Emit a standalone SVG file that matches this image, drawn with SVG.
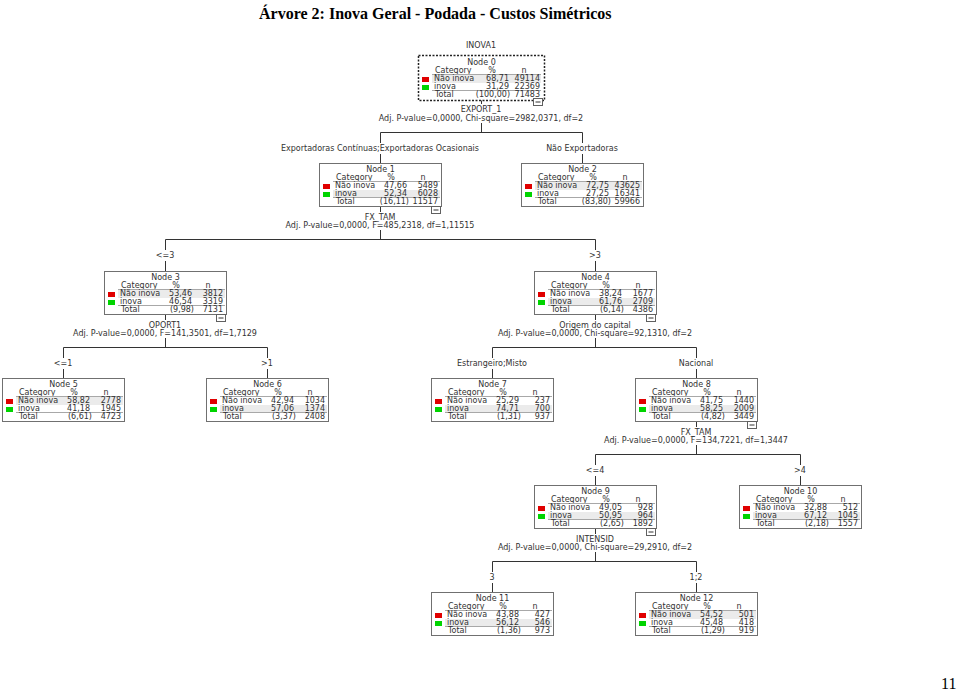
<svg xmlns="http://www.w3.org/2000/svg" width="960" height="691" viewBox="0 0 960 691">
<style>
.t{font-family:"DejaVu Sans",Verdana,sans-serif;font-size:8px;fill:#333}
.m{text-anchor:middle}
.e{text-anchor:end}
.box{fill:#fff;stroke:#707070;stroke-width:1}
.sel{fill:#fff;stroke:#222;stroke-width:1.5;stroke-dasharray:2 1.5}
.sep{stroke:#a8a8a8;stroke-width:1}
.hl{fill:#ebebeb}
.r{fill:#e00000}
.g{fill:#00d400}
.mb{fill:#fff;stroke:#606060;stroke-width:1}
.c{stroke:#333;stroke-width:1;fill:none}
.title{font-family:"Liberation Serif","Times New Roman",serif;font-size:16px;font-weight:bold;fill:#000}
.pg{font-family:"Liberation Serif","Times New Roman",serif;font-size:16px;fill:#000}
</style>
<rect width="960" height="691" fill="#fff"/>
<text class="title" x="259" y="19">Árvore 2: Inova Geral - Podada - Custos Simétricos</text>
<text class="pg" x="941" y="689">11</text>

<g id="connectors">
  <text class="t m" x="481" y="48">INOVA1</text>
  <path class="c" d="M481.5 100V104 M481.5 123V132.5 M380.5 132.5H582.5 M380.5 132.5V143 M380.5 154V163 M582.5 132.5V143 M582.5 154V163"/>
  <text class="t m" x="481" y="112">EXPORT_1</text>
  <text class="t m" x="481" y="121">Adj. P-value=0,0000, Chi-square=2982,0371, df=2</text>
  <text class="t m" x="380" y="151">Exportadoras Contínuas;Exportadoras Ocasionais</text>
  <text class="t m" x="582" y="151">Não Exportadoras</text>

  <path class="c" d="M380.5 207V212 M380.5 230V239.5 M165.5 239.5H595.5 M165.5 239.5V250 M165.5 261V271 M595.5 239.5V250 M595.5 261V271"/>
  <text class="t m" x="380" y="220">FX_TAM</text>
  <text class="t m" x="380" y="228">Adj. P-value=0,0000, F=485,2318, df=1,11515</text>
  <text class="t m" x="165" y="258">&lt;=3</text>
  <text class="t m" x="595" y="258">&gt;3</text>

  <path class="c" d="M165.5 315V320 M165.5 338V347.5 M63.5 347.5H267.5 M63.5 347.5V358 M63.5 369V378 M267.5 347.5V358 M267.5 369V378"/>
  <text class="t m" x="165" y="328">OPORT1</text>
  <text class="t m" x="165" y="336">Adj. P-value=0,0000, F=141,3501, df=1,7129</text>
  <text class="t m" x="63" y="366">&lt;=1</text>
  <text class="t m" x="267" y="366">&gt;1</text>

  <path class="c" d="M595.5 315V320 M595.5 338V347.5 M492.5 347.5H696.5 M492.5 347.5V358 M492.5 369V378 M696.5 347.5V358 M696.5 369V378"/>
  <text class="t m" x="595" y="328">Origem do capital</text>
  <text class="t m" x="595" y="336">Adj. P-value=0,0000, Chi-square=92,1310, df=2</text>
  <text class="t m" x="492" y="366">Estrangeiro;Misto</text>
  <text class="t m" x="696" y="366">Nacional</text>

  <path class="c" d="M696.5 422V427 M696.5 445V454.5 M595.5 454.5H800.5 M595.5 454.5V465 M595.5 476V485 M800.5 454.5V465 M800.5 476V485"/>
  <text class="t m" x="696" y="435">FX_TAM</text>
  <text class="t m" x="696" y="443">Adj. P-value=0,0000, F=134,7221, df=1,3447</text>
  <text class="t m" x="595" y="473">&lt;=4</text>
  <text class="t m" x="800" y="473">&gt;4</text>

  <path class="c" d="M595.5 529V534 M595.5 552V561.5 M492.5 561.5H696.5 M492.5 561.5V572 M492.5 583V592 M696.5 561.5V572 M696.5 583V592"/>
  <text class="t m" x="595" y="542">INTENSID</text>
  <text class="t m" x="595" y="550">Adj. P-value=0,0000, Chi-square=29,2910, df=2</text>
  <text class="t m" x="492" y="580">3</text>
  <text class="t m" x="696" y="580">1;2</text>
</g>

<g id="node0" transform="translate(418,55)">
  <rect class="sel" x="0.5" y="0.5" width="126" height="45"/>
  <text class="t m" x="63.5" y="10">Node 0</text>
  <text class="t" x="17" y="18">Category</text><text class="t m" x="74" y="18">%</text><text class="t m" x="106" y="18">n</text>
  <line class="sep" x1="14" y1="19.5" x2="123" y2="19.5"/>
  <rect class="hl" x="14" y="20" width="109" height="8"/>
  <rect class="r" x="4" y="22" width="7" height="5"/>
  <text class="t" x="16" y="26">Não inova</text><text class="t e" x="91" y="26">68,71</text><text class="t e" x="122" y="26">49114</text>
  <rect class="g" x="4" y="30" width="7" height="5"/>
  <text class="t" x="16" y="34">inova</text><text class="t e" x="91" y="34">31,29</text><text class="t e" x="122" y="34">22369</text>
  <line class="sep" x1="14" y1="35.5" x2="123" y2="35.5"/>
  <text class="t" x="17" y="42">Total</text><text class="t e" x="92" y="42">(100,00)</text><text class="t e" x="122" y="42">71483</text>
  <rect class="mb" x="115.5" y="43.5" width="9" height="7"/><line class="c" x1="117.5" y1="47" x2="122.5" y2="47"/>
</g>

<g id="node1" transform="translate(319,163)">
  <rect class="box" x="0.5" y="0.5" width="122" height="43"/>
  <text class="t m" x="61.5" y="9">Node 1</text>
  <text class="t" x="17" y="17">Category</text><text class="t m" x="72" y="17">%</text><text class="t m" x="104" y="17">n</text>
  <line class="sep" x1="14" y1="18.5" x2="121" y2="18.5"/>
  <rect class="hl" x="14" y="27" width="107" height="7"/>
  <rect class="r" x="4" y="21" width="7" height="5"/>
  <text class="t" x="16" y="25">Não inova</text><text class="t e" x="88" y="25">47,66</text><text class="t e" x="119" y="25">5489</text>
  <rect class="g" x="4" y="29" width="7" height="5"/>
  <text class="t" x="16" y="33">inova</text><text class="t e" x="88" y="33">52,34</text><text class="t e" x="119" y="33">6028</text>
  <line class="sep" x1="14" y1="34.5" x2="121" y2="34.5"/>
  <text class="t" x="17" y="41">Total</text><text class="t e" x="90" y="41">(16,11)</text><text class="t e" x="119" y="41">11517</text>
  <rect class="mb" x="112.5" y="43.5" width="9" height="7"/><line class="c" x1="114.5" y1="47" x2="119.5" y2="47"/>
</g>

<g id="node2" transform="translate(521,163)">
  <rect class="box" x="0.5" y="0.5" width="122" height="43"/>
  <text class="t m" x="61.5" y="9">Node 2</text>
  <text class="t" x="17" y="17">Category</text><text class="t m" x="72" y="17">%</text><text class="t m" x="104" y="17">n</text>
  <line class="sep" x1="14" y1="18.5" x2="121" y2="18.5"/>
  <rect class="hl" x="14" y="19" width="107" height="8"/>
  <rect class="r" x="4" y="21" width="7" height="5"/>
  <text class="t" x="16" y="25">Não inova</text><text class="t e" x="88" y="25">72,75</text><text class="t e" x="119" y="25">43625</text>
  <rect class="g" x="4" y="29" width="7" height="5"/>
  <text class="t" x="16" y="33">inova</text><text class="t e" x="88" y="33">27,25</text><text class="t e" x="119" y="33">16341</text>
  <line class="sep" x1="14" y1="34.5" x2="121" y2="34.5"/>
  <text class="t" x="17" y="41">Total</text><text class="t e" x="90" y="41">(83,80)</text><text class="t e" x="119" y="41">59966</text>
</g>

<g id="node3" transform="translate(104,271)">
  <rect class="box" x="0.5" y="0.5" width="122" height="43"/>
  <text class="t m" x="61.5" y="9">Node 3</text>
  <text class="t" x="17" y="17">Category</text><text class="t m" x="72" y="17">%</text><text class="t m" x="104" y="17">n</text>
  <line class="sep" x1="14" y1="18.5" x2="121" y2="18.5"/>
  <rect class="hl" x="14" y="19" width="107" height="8"/>
  <rect class="r" x="4" y="21" width="7" height="5"/>
  <text class="t" x="16" y="25">Não inova</text><text class="t e" x="88" y="25">53,46</text><text class="t e" x="119" y="25">3812</text>
  <rect class="g" x="4" y="29" width="7" height="5"/>
  <text class="t" x="16" y="33">inova</text><text class="t e" x="88" y="33">46,54</text><text class="t e" x="119" y="33">3319</text>
  <line class="sep" x1="14" y1="34.5" x2="121" y2="34.5"/>
  <text class="t" x="17" y="41">Total</text><text class="t e" x="90" y="41">(9,98)</text><text class="t e" x="119" y="41">7131</text>
  <rect class="mb" x="112.5" y="43.5" width="9" height="7"/><line class="c" x1="114.5" y1="47" x2="119.5" y2="47"/>
</g>

<g id="node4" transform="translate(534,271)">
  <rect class="box" x="0.5" y="0.5" width="122" height="43"/>
  <text class="t m" x="61.5" y="9">Node 4</text>
  <text class="t" x="17" y="17">Category</text><text class="t m" x="72" y="17">%</text><text class="t m" x="104" y="17">n</text>
  <line class="sep" x1="14" y1="18.5" x2="121" y2="18.5"/>
  <rect class="hl" x="14" y="27" width="107" height="7"/>
  <rect class="r" x="4" y="21" width="7" height="5"/>
  <text class="t" x="16" y="25">Não inova</text><text class="t e" x="88" y="25">38,24</text><text class="t e" x="119" y="25">1677</text>
  <rect class="g" x="4" y="29" width="7" height="5"/>
  <text class="t" x="16" y="33">inova</text><text class="t e" x="88" y="33">61,76</text><text class="t e" x="119" y="33">2709</text>
  <line class="sep" x1="14" y1="34.5" x2="121" y2="34.5"/>
  <text class="t" x="17" y="41">Total</text><text class="t e" x="90" y="41">(6,14)</text><text class="t e" x="119" y="41">4386</text>
  <rect class="mb" x="112.5" y="43.5" width="9" height="7"/><line class="c" x1="114.5" y1="47" x2="119.5" y2="47"/>
</g>

<g id="node5" transform="translate(2,378)">
  <rect class="box" x="0.5" y="0.5" width="122" height="43"/>
  <text class="t m" x="61.5" y="9">Node 5</text>
  <text class="t" x="17" y="17">Category</text><text class="t m" x="72" y="17">%</text><text class="t m" x="104" y="17">n</text>
  <line class="sep" x1="14" y1="18.5" x2="121" y2="18.5"/>
  <rect class="hl" x="14" y="19" width="107" height="8"/>
  <rect class="r" x="4" y="21" width="7" height="5"/>
  <text class="t" x="16" y="25">Não inova</text><text class="t e" x="88" y="25">58,82</text><text class="t e" x="119" y="25">2778</text>
  <rect class="g" x="4" y="29" width="7" height="5"/>
  <text class="t" x="16" y="33">inova</text><text class="t e" x="88" y="33">41,18</text><text class="t e" x="119" y="33">1945</text>
  <line class="sep" x1="14" y1="34.5" x2="121" y2="34.5"/>
  <text class="t" x="17" y="41">Total</text><text class="t e" x="90" y="41">(6,61)</text><text class="t e" x="119" y="41">4723</text>
</g>

<g id="node6" transform="translate(206,378)">
  <rect class="box" x="0.5" y="0.5" width="122" height="43"/>
  <text class="t m" x="61.5" y="9">Node 6</text>
  <text class="t" x="17" y="17">Category</text><text class="t m" x="72" y="17">%</text><text class="t m" x="104" y="17">n</text>
  <line class="sep" x1="14" y1="18.5" x2="121" y2="18.5"/>
  <rect class="hl" x="14" y="27" width="107" height="7"/>
  <rect class="r" x="4" y="21" width="7" height="5"/>
  <text class="t" x="16" y="25">Não inova</text><text class="t e" x="88" y="25">42,94</text><text class="t e" x="119" y="25">1034</text>
  <rect class="g" x="4" y="29" width="7" height="5"/>
  <text class="t" x="16" y="33">inova</text><text class="t e" x="88" y="33">57,06</text><text class="t e" x="119" y="33">1374</text>
  <line class="sep" x1="14" y1="34.5" x2="121" y2="34.5"/>
  <text class="t" x="17" y="41">Total</text><text class="t e" x="90" y="41">(3,37)</text><text class="t e" x="119" y="41">2408</text>
</g>

<g id="node7" transform="translate(431,378)">
  <rect class="box" x="0.5" y="0.5" width="122" height="43"/>
  <text class="t m" x="61.5" y="9">Node 7</text>
  <text class="t" x="17" y="17">Category</text><text class="t m" x="72" y="17">%</text><text class="t m" x="104" y="17">n</text>
  <line class="sep" x1="14" y1="18.5" x2="121" y2="18.5"/>
  <rect class="hl" x="14" y="27" width="107" height="7"/>
  <rect class="r" x="4" y="21" width="7" height="5"/>
  <text class="t" x="16" y="25">Não inova</text><text class="t e" x="88" y="25">25,29</text><text class="t e" x="119" y="25">237</text>
  <rect class="g" x="4" y="29" width="7" height="5"/>
  <text class="t" x="16" y="33">inova</text><text class="t e" x="88" y="33">74,71</text><text class="t e" x="119" y="33">700</text>
  <line class="sep" x1="14" y1="34.5" x2="121" y2="34.5"/>
  <text class="t" x="17" y="41">Total</text><text class="t e" x="90" y="41">(1,31)</text><text class="t e" x="119" y="41">937</text>
</g>

<g id="node8" transform="translate(635,378)">
  <rect class="box" x="0.5" y="0.5" width="122" height="43"/>
  <text class="t m" x="61.5" y="9">Node 8</text>
  <text class="t" x="17" y="17">Category</text><text class="t m" x="72" y="17">%</text><text class="t m" x="104" y="17">n</text>
  <line class="sep" x1="14" y1="18.5" x2="121" y2="18.5"/>
  <rect class="hl" x="14" y="27" width="107" height="7"/>
  <rect class="r" x="4" y="21" width="7" height="5"/>
  <text class="t" x="16" y="25">Não inova</text><text class="t e" x="88" y="25">41,75</text><text class="t e" x="119" y="25">1440</text>
  <rect class="g" x="4" y="29" width="7" height="5"/>
  <text class="t" x="16" y="33">inova</text><text class="t e" x="88" y="33">58,25</text><text class="t e" x="119" y="33">2009</text>
  <line class="sep" x1="14" y1="34.5" x2="121" y2="34.5"/>
  <text class="t" x="17" y="41">Total</text><text class="t e" x="90" y="41">(4,82)</text><text class="t e" x="119" y="41">3449</text>
  <rect class="mb" x="112.5" y="43.5" width="9" height="7"/><line class="c" x1="114.5" y1="47" x2="119.5" y2="47"/>
</g>

<g id="node9" transform="translate(534,485)">
  <rect class="box" x="0.5" y="0.5" width="122" height="43"/>
  <text class="t m" x="61.5" y="9">Node 9</text>
  <text class="t" x="17" y="17">Category</text><text class="t m" x="72" y="17">%</text><text class="t m" x="104" y="17">n</text>
  <line class="sep" x1="14" y1="18.5" x2="121" y2="18.5"/>
  <rect class="hl" x="14" y="27" width="107" height="7"/>
  <rect class="r" x="4" y="21" width="7" height="5"/>
  <text class="t" x="16" y="25">Não inova</text><text class="t e" x="88" y="25">49,05</text><text class="t e" x="119" y="25">928</text>
  <rect class="g" x="4" y="29" width="7" height="5"/>
  <text class="t" x="16" y="33">inova</text><text class="t e" x="88" y="33">50,95</text><text class="t e" x="119" y="33">964</text>
  <line class="sep" x1="14" y1="34.5" x2="121" y2="34.5"/>
  <text class="t" x="17" y="41">Total</text><text class="t e" x="90" y="41">(2,65)</text><text class="t e" x="119" y="41">1892</text>
  <rect class="mb" x="112.5" y="43.5" width="9" height="7"/><line class="c" x1="114.5" y1="47" x2="119.5" y2="47"/>
</g>

<g id="node10" transform="translate(739,485)">
  <rect class="box" x="0.5" y="0.5" width="122" height="43"/>
  <text class="t m" x="61.5" y="9">Node 10</text>
  <text class="t" x="17" y="17">Category</text><text class="t m" x="72" y="17">%</text><text class="t m" x="104" y="17">n</text>
  <line class="sep" x1="14" y1="18.5" x2="121" y2="18.5"/>
  <rect class="hl" x="14" y="27" width="107" height="7"/>
  <rect class="r" x="4" y="21" width="7" height="5"/>
  <text class="t" x="16" y="25">Não inova</text><text class="t e" x="88" y="25">32,88</text><text class="t e" x="119" y="25">512</text>
  <rect class="g" x="4" y="29" width="7" height="5"/>
  <text class="t" x="16" y="33">inova</text><text class="t e" x="88" y="33">67,12</text><text class="t e" x="119" y="33">1045</text>
  <line class="sep" x1="14" y1="34.5" x2="121" y2="34.5"/>
  <text class="t" x="17" y="41">Total</text><text class="t e" x="90" y="41">(2,18)</text><text class="t e" x="119" y="41">1557</text>
</g>

<g id="node11" transform="translate(431,592)">
  <rect class="box" x="0.5" y="0.5" width="122" height="43"/>
  <text class="t m" x="61.5" y="9">Node 11</text>
  <text class="t" x="17" y="17">Category</text><text class="t m" x="72" y="17">%</text><text class="t m" x="104" y="17">n</text>
  <line class="sep" x1="14" y1="18.5" x2="121" y2="18.5"/>
  <rect class="hl" x="14" y="27" width="107" height="7"/>
  <rect class="r" x="4" y="21" width="7" height="5"/>
  <text class="t" x="16" y="25">Não inova</text><text class="t e" x="88" y="25">43,88</text><text class="t e" x="119" y="25">427</text>
  <rect class="g" x="4" y="29" width="7" height="5"/>
  <text class="t" x="16" y="33">inova</text><text class="t e" x="88" y="33">56,12</text><text class="t e" x="119" y="33">546</text>
  <line class="sep" x1="14" y1="34.5" x2="121" y2="34.5"/>
  <text class="t" x="17" y="41">Total</text><text class="t e" x="90" y="41">(1,36)</text><text class="t e" x="119" y="41">973</text>
</g>

<g id="node12" transform="translate(635,592)">
  <rect class="box" x="0.5" y="0.5" width="122" height="43"/>
  <text class="t m" x="61.5" y="9">Node 12</text>
  <text class="t" x="17" y="17">Category</text><text class="t m" x="72" y="17">%</text><text class="t m" x="104" y="17">n</text>
  <line class="sep" x1="14" y1="18.5" x2="121" y2="18.5"/>
  <rect class="hl" x="14" y="19" width="107" height="8"/>
  <rect class="r" x="4" y="21" width="7" height="5"/>
  <text class="t" x="16" y="25">Não inova</text><text class="t e" x="88" y="25">54,52</text><text class="t e" x="119" y="25">501</text>
  <rect class="g" x="4" y="29" width="7" height="5"/>
  <text class="t" x="16" y="33">inova</text><text class="t e" x="88" y="33">45,48</text><text class="t e" x="119" y="33">418</text>
  <line class="sep" x1="14" y1="34.5" x2="121" y2="34.5"/>
  <text class="t" x="17" y="41">Total</text><text class="t e" x="90" y="41">(1,29)</text><text class="t e" x="119" y="41">919</text>
</g>
</svg>
